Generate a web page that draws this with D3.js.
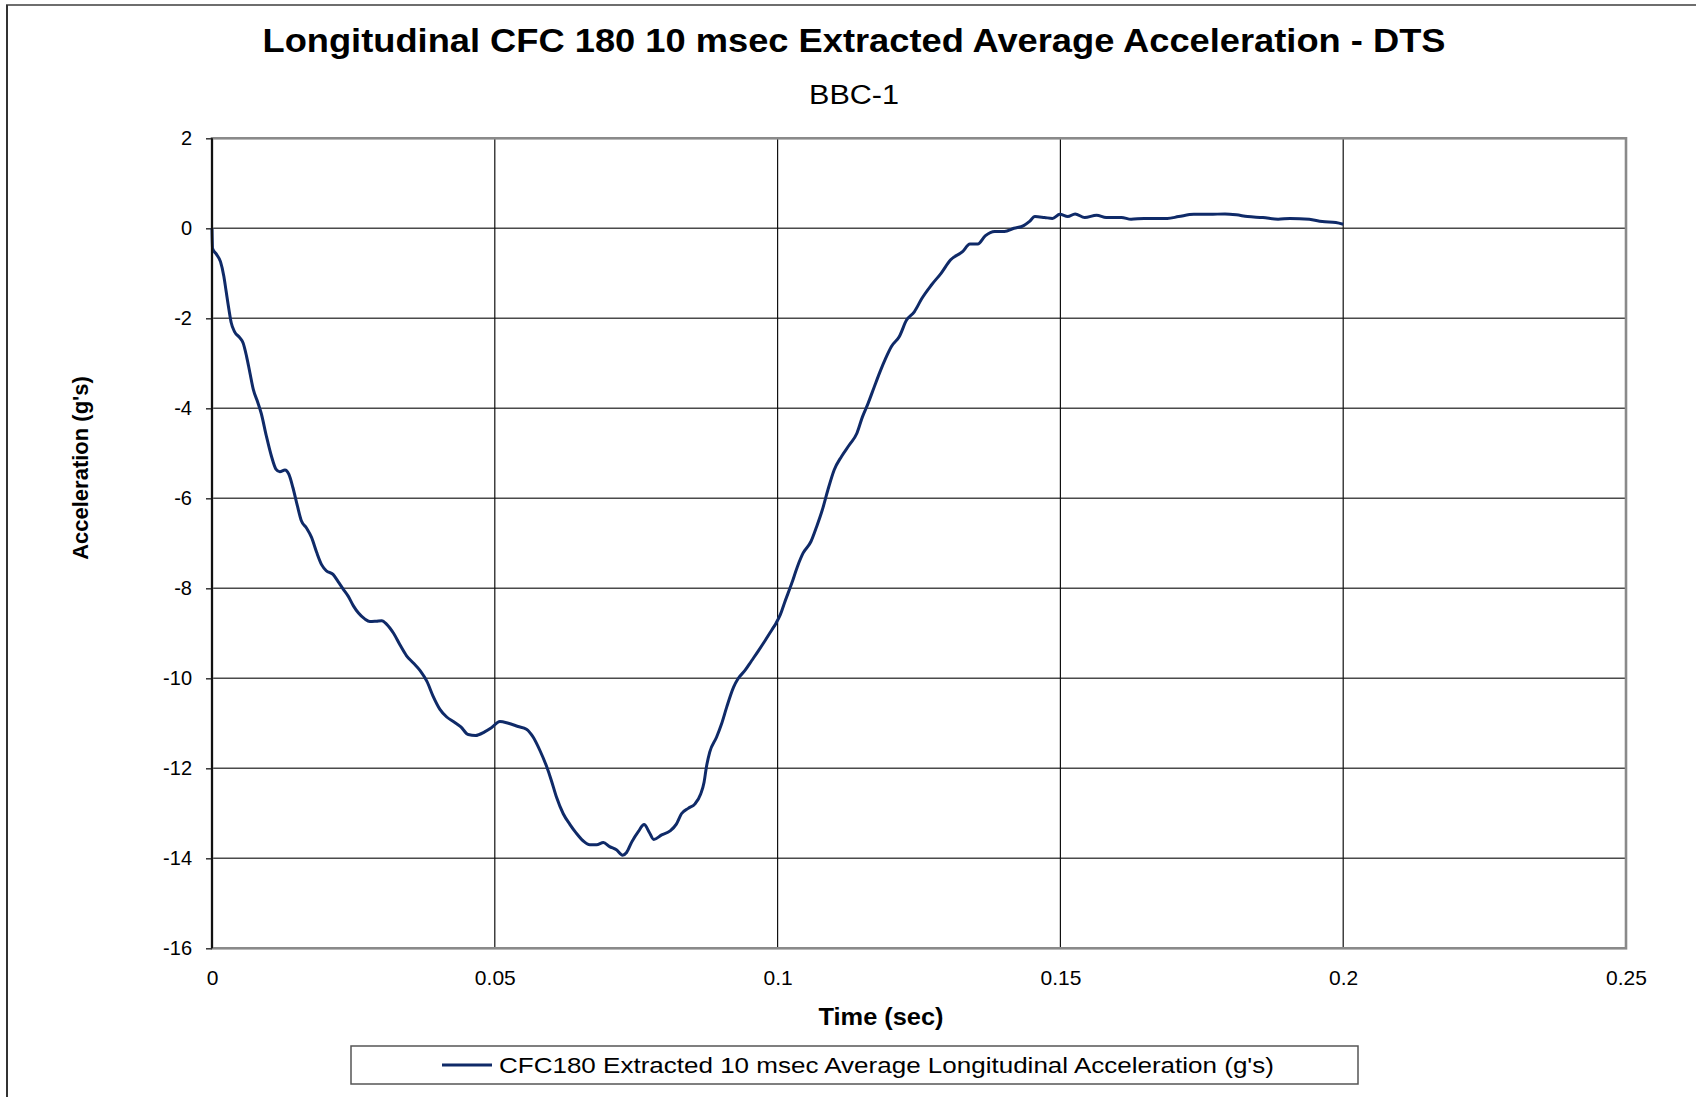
<!DOCTYPE html>
<html>
<head>
<meta charset="utf-8">
<script src="https://cdn.jsdelivr.net/npm/d3@7"></script>
<style>
  html, body { margin: 0; padding: 0; background: #fff; }
  svg { display: block; font-family: "Liberation Sans", Arial, sans-serif; }
</style>
</head>
<body>
<svg id="chart" width="1696" height="1097"></svg>
<script>
// Time samples (sec) and the 10 ms extracted average longitudinal acceleration (g's)
const timeSec = [
  0.0000, 0.0001, 0.0008, 0.0015, 0.0021, 0.0025, 0.0030, 0.0034, 0.0040, 0.0049,
  0.0055, 0.0061, 0.0067, 0.0073, 0.0081, 0.0087, 0.0096, 0.0105, 0.0113, 0.0120,
  0.0129, 0.0136, 0.0143, 0.0151, 0.0158, 0.0167, 0.0176, 0.0185, 0.0194, 0.0202,
  0.0214, 0.0223, 0.0232, 0.0241, 0.0250, 0.0259, 0.0270, 0.0279, 0.0291, 0.0300,
  0.0309, 0.0321, 0.0332, 0.0344, 0.0356, 0.0368, 0.0380, 0.0391, 0.0403, 0.0415,
  0.0428, 0.0440, 0.0453, 0.0466, 0.0482, 0.0494, 0.0509, 0.0524, 0.0541, 0.0556,
  0.0568, 0.0580, 0.0591, 0.0600, 0.0609, 0.0621, 0.0633, 0.0644, 0.0656, 0.0668,
  0.0680, 0.0692, 0.0703, 0.0715, 0.0726, 0.0733, 0.0742, 0.0754, 0.0764, 0.0773,
  0.0781, 0.0795, 0.0810, 0.0821, 0.0830, 0.0842, 0.0854, 0.0864, 0.0870, 0.0874,
  0.0880, 0.0892, 0.0901, 0.0910, 0.0922, 0.0930, 0.0942, 0.0954, 0.0966, 0.0978,
  0.0990, 0.0997, 0.1005, 0.1012, 0.1025, 0.1035, 0.1045, 0.1059, 0.1069, 0.1079,
  0.1089, 0.1100, 0.1113, 0.1127, 0.1140, 0.1150, 0.1160, 0.1171, 0.1181, 0.1191,
  0.1201, 0.1215, 0.1228, 0.1242, 0.1255, 0.1272, 0.1289, 0.1306, 0.1327, 0.1340,
  0.1354, 0.1367, 0.1384, 0.1401, 0.1418, 0.1435, 0.1445, 0.1455, 0.1472, 0.1486,
  0.1499, 0.1513, 0.1526, 0.1543, 0.1564, 0.1581, 0.1594, 0.1608, 0.1625, 0.1648,
  0.1669, 0.1689, 0.1709, 0.1736, 0.1764, 0.1791, 0.1811, 0.1831, 0.1858, 0.1885,
  0.1906, 0.1940, 0.1963, 0.1987, 0.2000
];
const accelG = [
  0.00, -0.45, -0.58, -0.74, -1.07, -1.40, -1.81, -2.10, -2.30, -2.43,
  -2.55, -2.84, -3.21, -3.58, -3.87, -4.11, -4.61, -5.06, -5.35, -5.41,
  -5.37, -5.47, -5.76, -6.17, -6.50, -6.66, -6.87, -7.20, -7.48, -7.61,
  -7.69, -7.85, -8.02, -8.18, -8.39, -8.55, -8.68, -8.74, -8.73, -8.72,
  -8.80, -9.00, -9.25, -9.50, -9.66, -9.83, -10.07, -10.40, -10.69, -10.86,
  -10.97, -11.08, -11.25, -11.27, -11.19, -11.10, -10.96, -11.00, -11.07, -11.13,
  -11.31, -11.61, -11.94, -12.27, -12.64, -13.01, -13.25, -13.44, -13.61, -13.70,
  -13.70, -13.65, -13.74, -13.81, -13.93, -13.87, -13.64, -13.40, -13.25, -13.42,
  -13.58, -13.48, -13.39, -13.24, -13.01, -12.89, -12.79, -12.57, -12.31, -11.98,
  -11.64, -11.31, -11.01, -10.64, -10.20, -10.01, -9.83, -9.61, -9.39, -9.16,
  -8.92, -8.78, -8.58, -8.33, -7.89, -7.52, -7.22, -6.96, -6.63, -6.26,
  -5.81, -5.37, -5.07, -4.81, -4.56, -4.19, -3.89, -3.52, -3.19, -2.89,
  -2.63, -2.41, -2.04, -1.85, -1.56, -1.26, -1.00, -0.70, -0.52, -0.35,
  -0.35, -0.17, -0.07, -0.07, 0.00, 0.06, 0.15, 0.26, 0.24, 0.22,
  0.31, 0.26, 0.32, 0.24, 0.29, 0.24, 0.24, 0.24, 0.20, 0.22,
  0.22, 0.22, 0.26, 0.31, 0.31, 0.32, 0.30, 0.26, 0.24, 0.20,
  0.22, 0.20, 0.15, 0.13, 0.09
];

// Axis ticks and labels
const xTicks = [0, 0.05, 0.1, 0.15, 0.2, 0.25];
const xTickLabels = ["0", "0.05", "0.1", "0.15", "0.2", "0.25"];
const yTicks = [2, 0, -2, -4, -6, -8, -10, -12, -14, -16];
const yTickLabels = ["2", "0", "-2", "-4", "-6", "-8", "-10", "-12", "-14", "-16"];

const titleText = "Longitudinal CFC 180 10 msec Extracted Average Acceleration - DTS";
const subtitleText = "BBC-1";
const xTitle = "Time (sec)";
const yTitle = "Acceleration (g's)";
const seriesName = "CFC180 Extracted 10 msec Average Longitudinal Acceleration (g's)";

const svg = d3.select("#chart");
const plot = { left: 212, right: 1626, top: 138.3, bottom: 948.3 };

const x = d3.scaleLinear().domain([0, 0.25]).range([plot.left, plot.right]);
const y = d3.scaleLinear().domain([-16, 2]).range([plot.bottom, plot.top]);

// Outer chart frame
svg.append("rect")
  .attr("x", 7).attr("y", 5).attr("width", 1720).attr("height", 1120)
  .attr("fill", "#fff").attr("stroke", "#6e6e6e").attr("stroke-width", 2);
svg.append("line")
  .attr("x1", 7).attr("x2", 7).attr("y1", 5).attr("y2", 1097)
  .attr("stroke", "#333").attr("stroke-width", 2);

// Titles
svg.append("text")
  .attr("x", 854).attr("y", 52)
  .attr("text-anchor", "middle")
  .attr("font-size", 33).attr("font-weight", "bold").attr("fill", "#000")
  .attr("textLength", 1183).attr("lengthAdjust", "spacingAndGlyphs")
  .text(titleText);
svg.append("text")
  .attr("x", 854).attr("y", 104)
  .attr("text-anchor", "middle")
  .attr("font-size", 27).attr("fill", "#000")
  .attr("textLength", 90).attr("lengthAdjust", "spacingAndGlyphs")
  .text(subtitleText);

// Horizontal gridlines
svg.append("g")
  .selectAll("line")
  .data(yTicks)
  .join("line")
  .attr("x1", plot.left).attr("x2", plot.right)
  .attr("y1", d => y(d)).attr("y2", d => y(d))
  .attr("stroke", "#4a4a4a").attr("stroke-width", 1.6);

// Vertical gridlines
svg.append("g")
  .selectAll("line")
  .data(xTicks.slice(1, -1))
  .join("line")
  .attr("x1", d => x(d)).attr("x2", d => x(d))
  .attr("y1", plot.top).attr("y2", plot.bottom)
  .attr("stroke", "#111").attr("stroke-width", 1.2);

// Plot area border
svg.append("rect")
  .attr("x", plot.left).attr("y", plot.top)
  .attr("width", plot.right - plot.left).attr("height", plot.bottom - plot.top)
  .attr("fill", "none").attr("stroke", "#8a8a8a").attr("stroke-width", 2.6);

// Y axis with outward ticks
const yAxis = d3.axisLeft(y)
  .tickValues(yTicks)
  .tickSize(6)
  .tickFormat((d, i) => yTickLabels[i])
  .tickPadding(14);
const yg = svg.append("g").attr("transform", `translate(${plot.left},0)`).call(yAxis);
yg.select(".domain").remove();
yg.selectAll(".tick line").attr("stroke", "#333").attr("stroke-width", 1.5);
yg.selectAll(".tick text")
  .attr("font-size", 20).attr("fill", "#000")
  .attr("font-family", "Liberation Sans, Arial, sans-serif");

// X axis labels
const xAxis = d3.axisBottom(x)
  .tickValues(xTicks)
  .tickSize(0)
  .tickFormat((d, i) => xTickLabels[i])
  .tickPadding(22);
const xg = svg.append("g").attr("transform", `translate(0,${plot.bottom})`).call(xAxis);
xg.select(".domain").remove();
xg.selectAll(".tick text")
  .attr("font-size", 21).attr("fill", "#000")
  .attr("font-family", "Liberation Sans, Arial, sans-serif");

// Data series
const points = timeSec.map((t, i) => [t, accelG[i]]);
const line = d3.line()
  .x(d => x(d[0]))
  .y(d => y(d[1]))
  .curve(d3.curveMonotoneX);
svg.append("path")
  .datum(points)
  .attr("d", line)
  .attr("fill", "none")
  .attr("stroke", "#0f2a68")
  .attr("stroke-width", 3)
  .attr("stroke-linejoin", "round");

// Y axis line at time zero
svg.append("line")
  .attr("x1", x(0)).attr("x2", x(0))
  .attr("y1", plot.top).attr("y2", plot.bottom)
  .attr("stroke", "#111").attr("stroke-width", 2);

// Axis titles
svg.append("text")
  .attr("x", 881).attr("y", 1025)
  .attr("text-anchor", "middle")
  .attr("font-size", 24).attr("font-weight", "bold").attr("fill", "#000")
  .attr("textLength", 125).attr("lengthAdjust", "spacingAndGlyphs")
  .text(xTitle);
svg.append("text")
  .attr("transform", "translate(88,468) rotate(-90)")
  .attr("text-anchor", "middle")
  .attr("font-size", 22).attr("font-weight", "bold").attr("fill", "#000")
  .text(yTitle);

// Legend
const legend = svg.append("g");
legend.append("rect")
  .attr("x", 351).attr("y", 1046).attr("width", 1007).attr("height", 38)
  .attr("fill", "#fff").attr("stroke", "#555").attr("stroke-width", 1.5);
legend.append("line")
  .attr("x1", 442).attr("x2", 492).attr("y1", 1065).attr("y2", 1065)
  .attr("stroke", "#0f2a68").attr("stroke-width", 3);
legend.append("text")
  .attr("x", 499).attr("y", 1073)
  .attr("font-size", 22).attr("fill", "#000")
  .attr("textLength", 775).attr("lengthAdjust", "spacingAndGlyphs")
  .text(seriesName);
</script>
</body>
</html>
